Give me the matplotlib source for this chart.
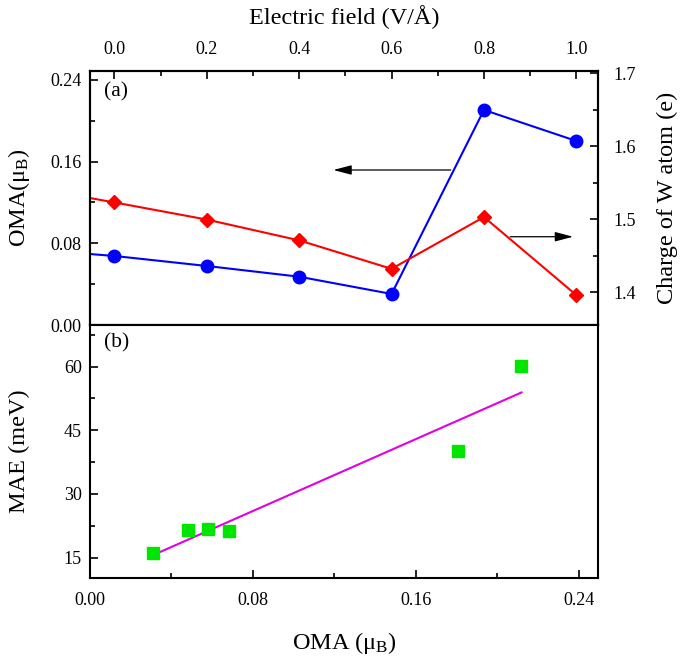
import numpy as np
import matplotlib
matplotlib.use("Agg")
import matplotlib.pyplot as plt
from matplotlib.ticker import MultipleLocator

plt.rcParams["font.family"] = "Liberation Serif"
plt.rcParams["mathtext.fontset"] = "custom"
plt.rcParams["mathtext.rm"] = "Liberation Serif"
plt.rcParams["mathtext.it"] = "Liberation Serif:italic"

# (a) values vs electric field
field = [0.0, 0.2, 0.4, 0.6, 0.8, 1.0]
oma = [0.0676, 0.0578, 0.0473, 0.0304, 0.2106, 0.1802]
charge = [1.523, 1.4995, 1.471, 1.432, 1.503, 1.396]
# the curves run on to the left frame edge
field_edge = -0.053
oma_edge = 0.0695
charge_edge = 1.529

# (b) MAE vs OMA
oma_b = [0.0311, 0.0479, 0.0579, 0.0681, 0.1806, 0.2119]
mae = [16.2, 21.4, 21.8, 21.2, 40.0, 60.1]
fit_x = [0.031, 0.212]
fit_y = [15.6, 53.9]

fig = plt.figure(figsize=(6.85, 6.61), dpi=100)
left, width = 0.1314, 0.7423
ax = fig.add_axes([left, 0.5083, width, 0.3847])
ax2 = ax.twinx()
axb = fig.add_axes([left, 0.1256, width, 0.3828])

blue = "#0000ff"
red = "#ff0000"
tick_fs = 13
lab_fs = 17.5

ax.plot([field_edge] + field, [oma_edge] + oma, color=blue, lw=1.5, zorder=2)
ax.plot(field, oma, "o", color=blue, ms=9, zorder=3)
ax2.plot([field_edge] + field, [charge_edge] + charge, color=red, lw=1.5)
ax2.plot(field, charge, "D", color=red, ms=7.3)

ax.set_xlim(-0.053, 1.048)
ax.set_ylim(0, 0.249)
ax2.set_ylim(1.355, 1.7035)
ax.xaxis.tick_top()
ax.xaxis.set_label_position("top")
ax.set_xticks([0.0, 0.2, 0.4, 0.6, 0.8, 1.0])
ax.set_xticklabels(["0.0", "0.2", "0.4", "0.6", "0.8", "1.0"])
ax.xaxis.set_minor_locator(MultipleLocator(0.1))
ax.set_yticks([0.0, 0.08, 0.16, 0.24])
ax.set_yticklabels(["0.00", "0.08", "0.16", "0.24"])
ax.yaxis.set_minor_locator(MultipleLocator(0.04))
ax2.set_yticks([1.4, 1.5, 1.6, 1.7])
ax2.yaxis.set_minor_locator(MultipleLocator(0.05))

ax.set_xlabel("Electric field (V/Å)", fontsize=lab_fs)
ax.xaxis.set_label_coords(0.5, 1.185)
ax.set_ylabel("OMA(μ$_\\mathrm{B}$)", fontsize=lab_fs)
ax.yaxis.set_label_coords(-0.114, 0.5)
ax2.set_ylabel("Charge of W atom (e)", fontsize=lab_fs)
ax2.yaxis.set_label_coords(1.115, 0.5)
ax.text(0.0275, 0.916, "(a)", transform=ax.transAxes, fontsize=15.5, va="center")

head = "-|>,head_length=1.1,head_width=0.29"
ax.annotate("", xy=(0.474, 0.1518), xytext=(0.728, 0.1518),
            arrowprops=dict(arrowstyle=head, color="black", lw=0.9,
                            shrinkA=0, shrinkB=0))
ax2.annotate("", xy=(0.993, 1.476), xytext=(0.857, 1.476),
             arrowprops=dict(arrowstyle=head, color="black", lw=0.9,
                             shrinkA=0, shrinkB=0))

axb.plot(fit_x, fit_y, color="#e000e0", lw=1.5)
axb.plot(oma_b, mae, "s", color="#00e600", ms=8.4)
axb.set_xlim(0, 0.2498)
axb.set_ylim(10.2, 69.8)
axb.set_xticks([0.0, 0.08, 0.16, 0.24])
axb.set_xticklabels(["0.00", "0.08", "0.16", "0.24"])
axb.xaxis.set_minor_locator(MultipleLocator(0.04))
axb.set_yticks([15, 30, 45, 60])
axb.yaxis.set_minor_locator(MultipleLocator(7.5))
axb.set_xlabel("OMA (μ$_\\mathrm{B}$)", fontsize=lab_fs)
axb.xaxis.set_label_coords(0.5, -0.205)
axb.set_ylabel("MAE (meV)", fontsize=lab_fs)
axb.yaxis.set_label_coords(-0.117, 0.5)
axb.text(0.0275, 0.929, "(b)", transform=axb.transAxes, fontsize=15.5, va="center")

for a in (ax, ax2, axb):
    for s in a.spines.values():
        s.set_linewidth(1.5)
ax.tick_params(which="both", direction="in", width=1.2, labelsize=tick_fs,
               top=True, bottom=False, left=True, right=False,
               labeltop=True, labelbottom=False)
ax.tick_params(which="major", length=5.5)
ax.tick_params(which="minor", length=3.5)
ax.tick_params(axis="x", pad=9)
ax.tick_params(axis="y", pad=6)
ax2.tick_params(which="both", direction="in", width=1.2, labelsize=tick_fs)
ax2.tick_params(which="major", length=5.5, pad=11)
ax2.tick_params(which="minor", length=3.5)
axb.tick_params(which="both", direction="in", width=1.2, labelsize=tick_fs,
                top=False, right=False)
axb.tick_params(which="major", length=5.5)
axb.tick_params(which="minor", length=3.5)
axb.tick_params(axis="x", pad=10)
axb.tick_params(axis="y", pad=6)

fig.savefig("out.png", dpi=100)
